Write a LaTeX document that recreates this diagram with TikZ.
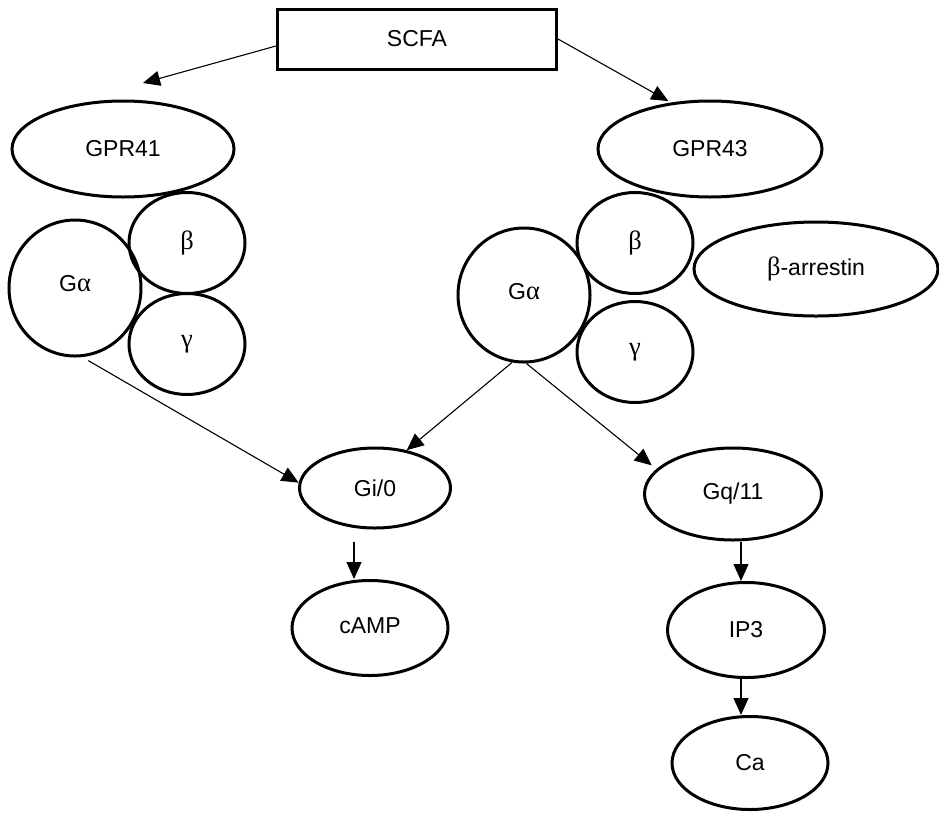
\documentclass[tikz,border=0pt]{standalone}
\usepackage{fontspec}
\setmainfont{Liberation Sans}
\newfontfamily\grk{Liberation Serif}[Scale=1.15]
\usetikzlibrary{arrows.meta}
\usetikzlibrary{shapes.geometric}

\begin{document}
\begin{tikzpicture}[x=1pt,y=-1pt,->,>={Triangle[length=17pt,width=15pt]},
	line width=1.1pt,font=\fontsize{23}{27}\selectfont,
	main node/.style={ellipse,draw,line width=3pt,inner sep=0pt},
	sub node/.style={main node,minimum width=116pt,minimum height=101pt},
	path node/.style={main node,minimum width=155pt,minimum height=95pt}]

	\useasboundingbox (0,0) rectangle (939,812);

	\node[draw,line width=3pt,minimum width=279pt,minimum height=60pt] (scfa) at (417,39) {SCFA};

	% left receptor
	\node[main node,minimum width=222pt,minimum height=96pt] (gpr41) at (123,149) {GPR41};
	\node[main node,minimum width=132pt,minimum height=136pt] (gaL) at (75,288) {\raisebox{9pt}{G{\grk α}}};
	\node[sub node] (bL) at (187,243) {\grk β};
	\node[sub node] (gL) at (187,344) {\grk γ};

	% right receptor
	\node[main node,minimum width=224pt,minimum height=96pt] (gpr43) at (710,149) {GPR43};
	\node[main node,minimum width=132pt,minimum height=134pt] (gaR) at (524,295) {\raisebox{8pt}{G{\grk α}}};
	\node[sub node] (bR) at (635,243) {\grk β};
	\node[sub node] (gR) at (635,352) {\grk γ};
	\node[main node,minimum width=244pt,minimum height=94pt] (arr) at (816,269) {{\grk β}-arrestin};

	% signalling
	\node[main node,minimum width=151pt,minimum height=80pt] (gi) at (375,488) {Gi/0};
	\node[path node,minimum width=156pt] (camp) at (370,628) {\raisebox{4pt}{cAMP}};
	\node[main node,minimum width=177pt,minimum height=92pt] (gq) at (733,494) {Gq/11};
	\node[path node,minimum width=157pt] (ip3) at (746,630) {IP3};
	\node[path node,minimum width=156pt,minimum height=93pt] (ca) at (750,763) {Ca};

	\coordinate (tip41) at (143,83);

	\draw ([yshift=-7pt]scfa.west) -- (tip41);
	\draw[shorten >=3pt] (scfa.east) -- (gpr43.130);
	\draw[shorten <=7pt] (gaL.-84) -- (gi.176);
	\draw (gaR.-100) -- (gi.50);
	\draw[shorten >=6pt] (gaR.-88) -- (gq.162);
	\draw ([xshift=-21pt,yshift=-12pt]gi.south) -- ([xshift=-16pt]camp.north);
	\draw ([xshift=8pt]gq.south) -- ([xshift=-5pt]ip3.north);
	\draw ([xshift=-5pt]ip3.south) -- ([xshift=-9pt]ca.north);

\end{tikzpicture}
\end{document}
